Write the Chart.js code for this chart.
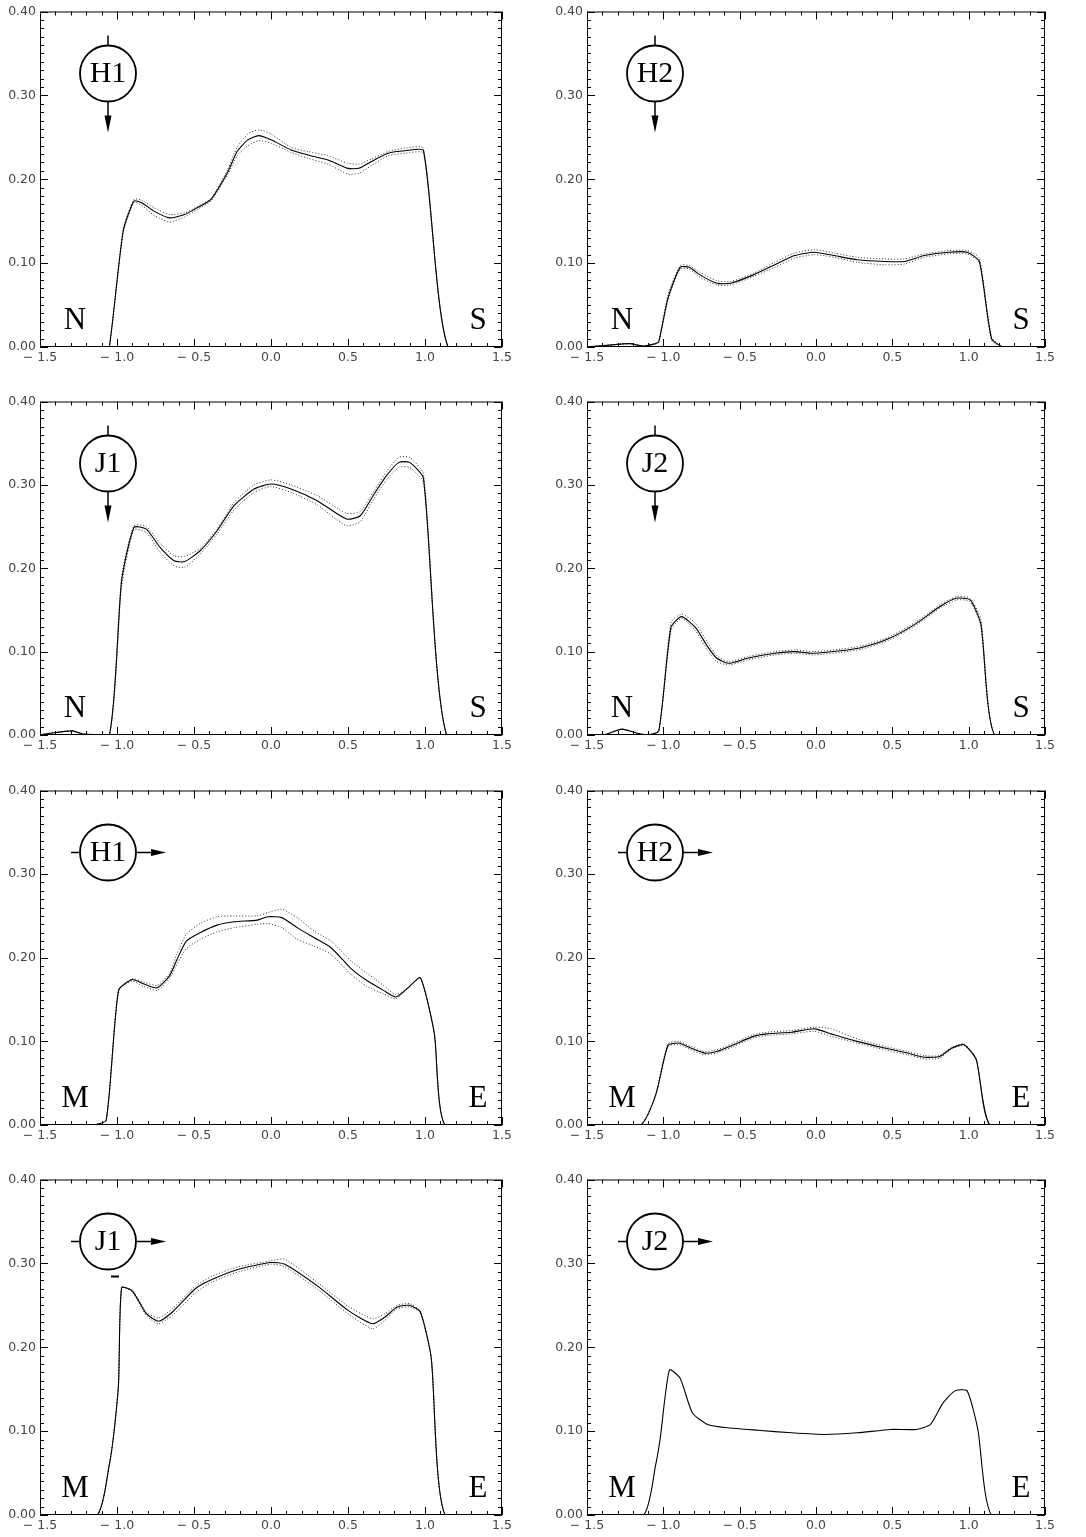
<!DOCTYPE html>
<html lang="en">
<head>
<meta charset="UTF-8">
<title>Profiles H1 H2 J1 J2</title>
<script src="https://cdn.jsdelivr.net/npm/chart.js"></script>
<style>
  body { margin: 0; background: #fff; }
  #page { position: relative; width: 1086px; height: 1537px; overflow: hidden; }
  #page canvas { position: absolute; }
</style>
</head>
<body>
<div id="page"></div>
<script>
// ---- data (x = position, y = profile value) ----
const xTicks = [-1.5, -1.0, -0.5, 0.0, 0.5, 1.0, 1.5];
const yTicks = [0.00, 0.10, 0.20, 0.30, 0.40];

// H1, N-S cut
const h1nsX   = [-1.5,-1.2,-1.08,-1.05,-0.96,-0.89,-0.84,-0.76,-0.66,-0.56,-0.48,-0.39,-0.28,-0.22,-0.15,-0.08,0.0,0.13,0.24,0.37,0.5,0.57,0.65,0.76,0.87,0.99,1.15,1.5];
const h1nsMid = [0,0,0,0,0.138,0.174,0.172,0.162,0.154,0.158,0.166,0.176,0.209,0.233,0.247,0.252,0.247,0.235,0.229,0.223,0.213,0.213,0.221,0.231,0.234,0.234,0,0];
const h1nsHi  = [0,0,0,0,0.140,0.176,0.175,0.166,0.158,0.160,0.167,0.177,0.212,0.238,0.254,0.259,0.254,0.238,0.233,0.228,0.219,0.218,0.224,0.233,0.237,0.237,0,0];
const h1nsLo  = [0,0,0,0,0.136,0.172,0.169,0.157,0.149,0.155,0.164,0.174,0.206,0.228,0.240,0.246,0.243,0.232,0.225,0.218,0.206,0.207,0.216,0.228,0.231,0.231,0,0];

// H2, N-S cut
const h2nsX   = [-1.5,-1.37,-1.22,-1.13,-1.05,-1.03,-0.97,-0.89,-0.83,-0.76,-0.65,-0.56,-0.41,-0.27,-0.14,-0.01,0.12,0.27,0.45,0.58,0.71,0.87,0.99,1.07,1.15,1.23,1.5];
const h2nsMid = [0,0.002,0.004,0.001,0.004,0.006,0.058,0.095,0.095,0.086,0.076,0.076,0.086,0.098,0.109,0.113,0.109,0.104,0.102,0.102,0.109,0.113,0.113,0.102,0.010,0,0];
const h2nsHi  = [0,0.002,0.004,0.001,0.004,0.006,0.062,0.097,0.097,0.089,0.079,0.078,0.088,0.101,0.112,0.116,0.112,0.107,0.105,0.105,0.111,0.115,0.115,0.106,0.012,0,0];
const h2nsLo  = [0,0.002,0.004,0.001,0.004,0.006,0.055,0.093,0.093,0.083,0.074,0.074,0.084,0.095,0.106,0.110,0.107,0.101,0.098,0.099,0.107,0.111,0.111,0.100,0.008,0,0];

// J1, N-S cut
const j1nsX   = [-1.5,-1.44,-1.29,-1.22,-1.05,-0.97,-0.89,-0.81,-0.72,-0.63,-0.56,-0.46,-0.35,-0.24,-0.11,0.0,0.13,0.3,0.49,0.58,0.67,0.75,0.83,0.9,0.99,1.14,1.5];
const j1nsMid = [0,0.002,0.005,0.001,0,0.185,0.249,0.247,0.225,0.209,0.208,0.221,0.245,0.275,0.295,0.301,0.295,0.281,0.259,0.263,0.289,0.311,0.327,0.327,0.308,0,0];
const j1nsHi  = [0,0.002,0.005,0.001,0,0.190,0.251,0.250,0.230,0.215,0.214,0.224,0.247,0.279,0.300,0.306,0.300,0.287,0.266,0.268,0.293,0.316,0.333,0.333,0.313,0,0];
const j1nsLo  = [0,0.002,0.005,0.001,0,0.178,0.246,0.243,0.219,0.203,0.201,0.217,0.241,0.270,0.291,0.298,0.291,0.276,0.251,0.256,0.284,0.306,0.321,0.321,0.303,0,0];

// J2, N-S cut
const j2nsX   = [-1.5,-1.39,-1.27,-1.17,-1.1,-1.03,-0.95,-0.88,-0.79,-0.71,-0.65,-0.57,-0.45,-0.27,-0.14,-0.01,0.16,0.3,0.47,0.65,0.82,0.92,1.01,1.08,1.17,1.5];
const j2nsMid = [0,0,0.007,0.002,0,0.005,0.129,0.142,0.129,0.106,0.092,0.086,0.092,0.098,0.100,0.098,0.101,0.105,0.115,0.133,0.155,0.164,0.162,0.133,0,0];
const j2nsHi  = [0,0,0.007,0.002,0,0.005,0.135,0.145,0.134,0.111,0.095,0.088,0.094,0.100,0.102,0.100,0.103,0.107,0.117,0.135,0.157,0.166,0.164,0.138,0,0];
const j2nsLo  = [0,0,0.007,0.002,0,0.005,0.125,0.140,0.125,0.101,0.088,0.084,0.090,0.096,0.098,0.096,0.099,0.103,0.113,0.131,0.153,0.162,0.160,0.130,0,0];

// H1, M-E cut
const h1meX   = [-1.5,-1.15,-1.07,-0.99,-0.9,-0.83,-0.74,-0.66,-0.61,-0.55,-0.46,-0.35,-0.24,-0.09,-0.02,0.07,0.17,0.28,0.39,0.52,0.62,0.73,0.81,0.89,0.97,1.06,1.13,1.5];
const h1meMid = [0,0,0.006,0.161,0.174,0.169,0.164,0.178,0.198,0.220,0.230,0.239,0.243,0.245,0.249,0.248,0.236,0.224,0.212,0.187,0.173,0.161,0.153,0.164,0.176,0.110,0,0];
const h1meHi  = [0,0,0.006,0.161,0.175,0.171,0.167,0.181,0.205,0.228,0.241,0.249,0.250,0.250,0.254,0.258,0.248,0.232,0.220,0.196,0.182,0.167,0.156,0.164,0.176,0.110,0,0];
const h1meLo  = [0,0,0.006,0.161,0.172,0.166,0.161,0.175,0.192,0.211,0.222,0.231,0.236,0.240,0.241,0.236,0.222,0.214,0.204,0.180,0.166,0.157,0.151,0.164,0.176,0.110,0,0];

// H2, M-E cut
const h2meX   = [-1.5,-1.15,-1.05,-0.97,-0.9,-0.82,-0.73,-0.65,-0.54,-0.41,-0.32,-0.16,-0.01,0.1,0.27,0.45,0.6,0.71,0.81,0.89,0.97,1.05,1.14,1.5];
const h2meMid = [0,0,0.036,0.095,0.098,0.092,0.086,0.088,0.096,0.106,0.109,0.111,0.115,0.109,0.100,0.092,0.086,0.081,0.082,0.092,0.096,0.078,0,0];
const h2meHi  = [0,0,0.037,0.097,0.100,0.094,0.088,0.090,0.098,0.108,0.111,0.113,0.117,0.115,0.103,0.094,0.088,0.083,0.083,0.093,0.097,0.079,0,0];
const h2meLo  = [0,0,0.035,0.094,0.096,0.090,0.084,0.086,0.094,0.104,0.107,0.109,0.112,0.106,0.098,0.090,0.084,0.079,0.080,0.091,0.095,0.077,0,0];

// J1, M-E cut
const j1meX   = [-1.5,-1.13,-1.05,-1.02,-0.99,-0.97,-0.9,-0.81,-0.73,-0.64,-0.49,-0.38,-0.21,0.0,0.09,0.31,0.5,0.66,0.74,0.82,0.9,0.97,1.04,1.13,1.5];
const j1meMid = [0,0,0.060,0.098,0.157,0.271,0.267,0.240,0.231,0.242,0.270,0.281,0.293,0.301,0.299,0.272,0.244,0.228,0.236,0.248,0.250,0.242,0.188,0,0];
const j1meHi  = [0,0,0.060,0.098,0.157,0.271,0.268,0.242,0.235,0.246,0.273,0.285,0.296,0.303,0.305,0.276,0.249,0.234,0.240,0.250,0.252,0.243,0.188,0,0];
const j1meLo  = [0,0,0.060,0.098,0.157,0.271,0.266,0.238,0.228,0.238,0.265,0.278,0.290,0.299,0.296,0.268,0.240,0.222,0.232,0.246,0.248,0.241,0.188,0,0];

// J2, M-E cut (error curves coincide with the profile)
const j2meX   = [-1.5,-1.13,-1.05,-1.02,-0.96,-0.89,-0.81,-0.71,-0.58,-0.38,-0.16,0.06,0.27,0.49,0.66,0.75,0.83,0.91,0.99,1.06,1.15,1.5];
const j2meMid = [0,0,0.06,0.092,0.173,0.163,0.122,0.108,0.104,0.101,0.098,0.096,0.098,0.102,0.102,0.108,0.133,0.148,0.148,0.102,0,0];

const panels = [
  { label: 'H1', dir: 'down',  ends: ['N', 'S'], x: h1nsX, mid: h1nsMid, hi: h1nsHi, lo: h1nsLo },
  { label: 'H2', dir: 'down',  ends: ['N', 'S'], x: h2nsX, mid: h2nsMid, hi: h2nsHi, lo: h2nsLo },
  { label: 'J1', dir: 'down',  ends: ['N', 'S'], x: j1nsX, mid: j1nsMid, hi: j1nsHi, lo: j1nsLo },
  { label: 'J2', dir: 'down',  ends: ['N', 'S'], x: j2nsX, mid: j2nsMid, hi: j2nsHi, lo: j2nsLo },
  { label: 'H1', dir: 'right', ends: ['M', 'E'], x: h1meX, mid: h1meMid, hi: h1meHi, lo: h1meLo },
  { label: 'H2', dir: 'right', ends: ['M', 'E'], x: h2meX, mid: h2meMid, hi: h2meHi, lo: h2meLo },
  { label: 'J1', dir: 'right', ends: ['M', 'E'], x: j1meX, mid: j1meMid, hi: j1meHi, lo: j1meLo, dash: true },
  { label: 'J2', dir: 'right', ends: ['M', 'E'], x: j2meX, mid: j2meMid, hi: null, lo: null }
];

// ---- layout of the 4x2 grid (plot-area edges in page pixels) ----
const rowTop    = [10, 400, 789, 1178];
const rowBottom = [347, 735, 1125, 1515];
const cols = [
  { left: 0,   width: 540, axisW: 40, padR: 38 },
  { left: 543, width: 543, axisW: 44, padR: 41 }
];
const X_AXIS_H = 22;

// frame with inward major/minor ticks on all four sides
const framePlugin = {
  id: 'frame',
  afterDatasetsDraw(chart) {
    const { ctx, chartArea: a, scales: { x, y } } = chart;
    ctx.save();
    ctx.strokeStyle = '#000';
    ctx.lineWidth = 1;
    ctx.strokeRect(a.left + 0.5, a.top + 0.5, a.right - a.left - 1, a.bottom - a.top - 1);
    ctx.beginPath();
    for (let i = -15; i <= 15; i++) {
      const px = Math.round(x.getPixelForValue(i / 10)) + 0.5;
      const len = i % 5 === 0 ? 8 : 4;
      ctx.moveTo(px, a.bottom); ctx.lineTo(px, a.bottom - len);
      ctx.moveTo(px, a.top);    ctx.lineTo(px, a.top + len);
    }
    for (let i = 0; i <= 40; i++) {
      const py = Math.round(y.getPixelForValue(i / 100)) + 0.5;
      const len = i % 10 === 0 ? 8 : 4;
      ctx.moveTo(a.left, py);  ctx.lineTo(a.left + len, py);
      ctx.moveTo(a.right, py); ctx.lineTo(a.right - len, py);
    }
    ctx.stroke();
    ctx.restore();
  }
};

// circled beam label with direction arrow, and the two end letters
const markerPlugin = {
  id: 'marker',
  afterDraw(chart, args, opts) {
    const { ctx, chartArea: a } = chart;
    const r = 28, cx = a.left + 68, cy = a.top + 62;
    ctx.save();
    ctx.strokeStyle = '#000';
    ctx.fillStyle = '#000';
    ctx.lineWidth = 1.8;
    ctx.beginPath();
    ctx.arc(cx, cy, r, 0, Math.PI * 2);
    ctx.stroke();
    ctx.lineWidth = 1.5;
    ctx.beginPath();
    if (opts.dir === 'down') {
      ctx.moveTo(cx, cy - r - 10); ctx.lineTo(cx, cy - r);
      ctx.moveTo(cx, cy + r);      ctx.lineTo(cx, cy + r + 16);
      ctx.stroke();
      ctx.beginPath();
      ctx.moveTo(cx - 3.5, cy + r + 14);
      ctx.lineTo(cx + 3.5, cy + r + 14);
      ctx.lineTo(cx, cy + r + 31);
      ctx.closePath();
      ctx.fill();
    } else {
      ctx.moveTo(cx - r - 9, cy); ctx.lineTo(cx - r, cy);
      ctx.moveTo(cx + r, cy);     ctx.lineTo(cx + r + 16, cy);
      ctx.stroke();
      ctx.beginPath();
      ctx.moveTo(cx + r + 15, cy - 3.5);
      ctx.lineTo(cx + r + 15, cy + 3.5);
      ctx.lineTo(cx + r + 30, cy);
      ctx.closePath();
      ctx.fill();
    }
    if (opts.dash) {
      ctx.lineWidth = 2;
      ctx.beginPath();
      ctx.moveTo(cx + 3, cy + 35); ctx.lineTo(cx + 11, cy + 35);
      ctx.stroke();
    }
    ctx.textAlign = 'center';
    ctx.textBaseline = 'middle';
    ctx.font = '30px "Liberation Serif"';
    ctx.fillText(opts.label, cx, cy + 1);
    ctx.textBaseline = 'alphabetic';
    ctx.font = '31px "Liberation Serif"';
    ctx.fillText(opts.ends[0], a.left + 35, a.bottom - 18);
    ctx.fillText(opts.ends[1], a.right - 24, a.bottom - 18);
    ctx.restore();
  }
};

function pts(xs, ys) {
  return xs.map((v, i) => ({ x: v, y: ys[i] }));
}

const tickFont = { family: '"DejaVu Sans", sans-serif', size: 12.5 };
const page = document.getElementById('page');

panels.forEach((p, k) => {
  const row = Math.floor(k / 2), col = cols[k % 2];
  const canvas = document.createElement('canvas');
  const h = rowBottom[row] - rowTop[row] + 10 + X_AXIS_H;
  canvas.width = col.width;
  canvas.height = h;
  canvas.style.left = col.left + 'px';
  canvas.style.top = (rowTop[row] - 10) + 'px';
  page.appendChild(canvas);

  const datasets = [{
    data: pts(p.x, p.mid), borderColor: '#000', borderWidth: 1.1
  }];
  if (p.hi) {
    datasets.push({ data: pts(p.x, p.hi), borderColor: '#333', borderWidth: 1, borderDash: [1, 2] });
    datasets.push({ data: pts(p.x, p.lo), borderColor: '#333', borderWidth: 1, borderDash: [1, 2] });
  }

  new Chart(canvas, {
    type: 'line',
    data: { datasets: datasets },
    options: {
      responsive: false,
      animation: false,
      devicePixelRatio: 1,
      layout: { padding: { top: 10, right: col.padR, left: 0, bottom: 0 } },
      elements: { point: { radius: 0 }, line: { tension: 0.2 } },
      plugins: {
        legend: { display: false },
        tooltip: { enabled: false },
        marker: { label: p.label, dir: p.dir, ends: p.ends, dash: !!p.dash }
      },
      scales: {
        x: {
          type: 'linear', min: xTicks[0], max: xTicks[xTicks.length - 1],
          grid: { display: false, drawTicks: false }, border: { display: false },
          afterBuildTicks: s => { s.ticks = xTicks.map(v => ({ value: v })); },
          ticks: {
            autoSkip: false, maxRotation: 0, padding: 3, color: '#444', font: tickFont,
            callback: v => v.toFixed(1).replace('-', '\u2212 ')
          },
          afterFit: s => { s.height = X_AXIS_H; }
        },
        y: {
          min: yTicks[0], max: yTicks[yTicks.length - 1],
          grid: { display: false, drawTicks: false }, border: { display: false },
          afterBuildTicks: s => { s.ticks = yTicks.map(v => ({ value: v })); },
          ticks: {
            autoSkip: false, padding: 4, color: '#444', font: tickFont,
            callback: v => v.toFixed(2)
          },
          afterFit: s => { s.width = col.axisW; }
        }
      }
    },
    plugins: [framePlugin, markerPlugin]
  });
});
</script>
</body>
</html>
